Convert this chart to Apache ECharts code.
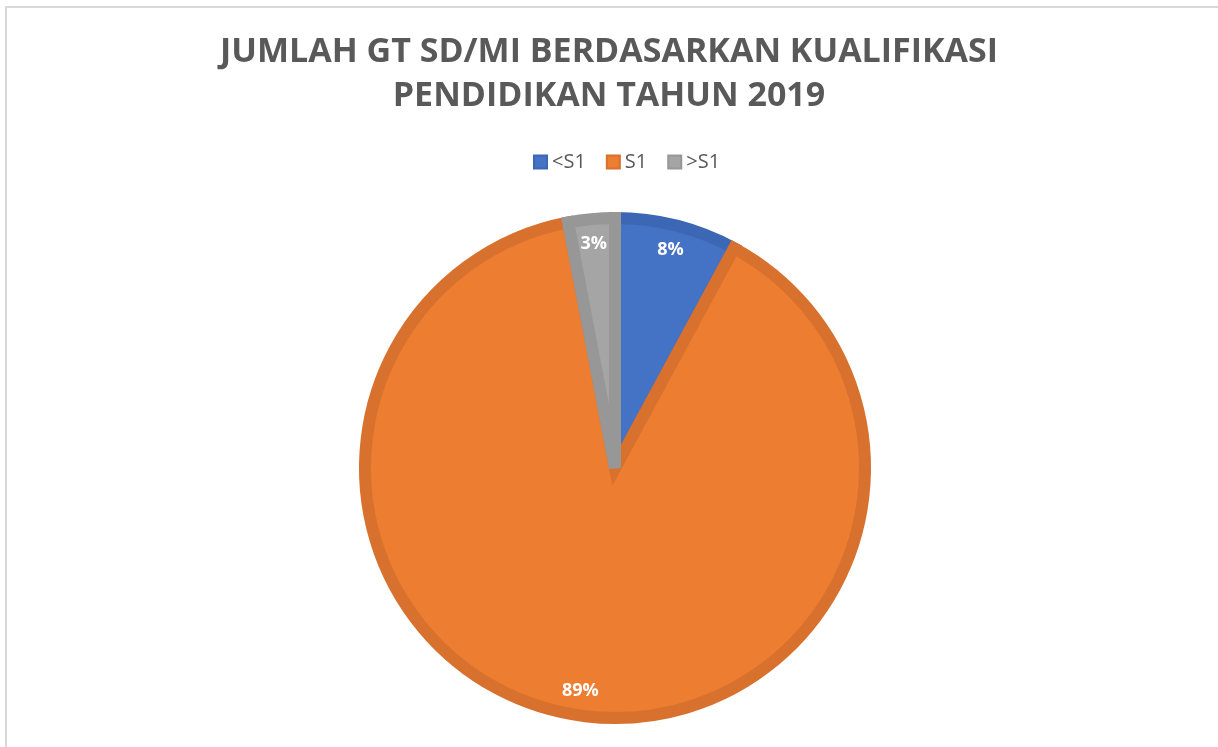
<!DOCTYPE html>
<html>
<head>
<meta charset="utf-8">
<script src="https://cdn.jsdelivr.net/npm/echarts@6/dist/echarts.min.js"></script>
<style>
  html, body { margin: 0; padding: 0; background: #fff; }
  #chart { width: 1218px; height: 747px; }
</style>
</head>
<body>
<div id="chart"></div>
<script>
// data
const categories = ["<S1", "S1", ">S1"];
const values = [7.9, 89.1, 3.0];
const faceColors = ["#4472C4", "#ED7D31", "#A5A5A5"];
const edgeColors = ["#3C67B4", "#D8712D", "#979797"];
const titleText = "JUMLAH GT SD/MI BERDASARKAN KUALIFIKASI\nPENDIDIKAN TAHUN 2019";

const chart = echarts.init(document.getElementById("chart"));

const pieData = categories.map((name, i) => ({
  name: name,
  value: values[i],
  itemStyle: { color: faceColors[i], borderColor: edgeColors[i] },
}));

const labelData = categories.map((name, i) => ({ name: name, value: values[i] }));

chart.setOption({
  animation: false,
  title: {
    text: titleText,
    left: "center",
    top: 25,
    textStyle: {
      fontFamily: "Open Sans",
      fontWeight: "bold",
      fontSize: 34,
      lineHeight: 44,
      color: "#595959",
    },
  },
  legend: {
    data: categories,
    top: 147,
    left: 528,
    itemWidth: 13,
    itemHeight: 13,
    itemGap: 20,
    icon: "rect",
    textStyle: { fontFamily: "Open Sans", fontSize: 20, color: "#595959", padding: [0, 0, 0, 0] },
  },
  graphic: [
    {
      type: "rect",
      shape: { x: 6, y: 7, width: 1300, height: 800 },
      style: { fill: "none", stroke: "#D9D9D9", lineWidth: 2 },
      silent: true,
    },
  ],
  series: [
    {
      type: "pie",
      center: [615, 468],
      radius: [0, 250],
      startAngle: 90,
      clockwise: true,
      silent: true,
      itemStyle: { borderWidth: 12, borderJoin: "miter", borderMiterLimit: 10 },
      label: { show: false },
      labelLine: { show: false },
      data: pieData,
    },
    {
      type: "pie",
      center: [615, 468],
      radius: [200, 245],
      startAngle: 90,
      clockwise: true,
      silent: true,
      itemStyle: { color: "transparent", borderWidth: 0 },
      label: {
        show: true,
        position: "inside",
        formatter: (p) => Math.round(p.percent) + "%",
        color: "#fff",
        fontFamily: "Open Sans",
        fontWeight: "bold",
        fontSize: 18,
      },
      labelLine: { show: false },
      data: labelData,
    },
  ],
});
</script>
</body>
</html>
